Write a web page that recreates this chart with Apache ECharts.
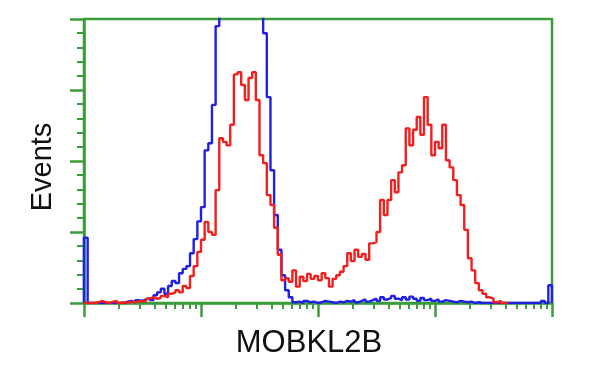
<!DOCTYPE html>
<html>
<head>
<meta charset="utf-8">
<script src="https://cdn.jsdelivr.net/npm/echarts@6/dist/echarts.min.js"></script>
<style>html,body{margin:0;padding:0;background:#fff;}#c{width:600px;height:375px;}</style>
</head>
<body>
<div id="c"></div>
<script>
// Histogram: 128 channels spanning 4 log decades (32 channels per decade)
const channelsPerDecade = 32;
const decades = 4;
const minorTickMultipliers = [2, 3, 4, 5, 6, 7, 8, 9];

// Isotype control (blue), counts per channel starting at channel 0
const blueCounts = [
  92, 0, 0, 0, 0, 0, 0, 0, 0, 0,
  0, 2, 3, 1, 4, 3, 5, 7, 4, 11,
  15, 20, 13, 24, 31, 28, 42, 48, 52, 70,
  90, 115, 135, 215, 225, 279, 390, 520, 640, 720,
  780, 810, 820, 800, 760, 700, 630, 560, 480, 380,
  290, 187, 124, 75, 39, 18, 8, 1, 2, 0,
  3, 1, 2, 0, 1, 3, 2, 1, 0, 2,
  1, 3, 2, 4, 1, 3, 5, 2, 4, 6,
  3, 8, 5, 7, 10, 6, 4, 8, 5, 9,
  6, 3, 7, 4, 6, 3, 5, 2, 4, 3,
  2, 1, 3, 2, 1, 2, 0, 1, 0, 0,
  0, 0, 0, 0, 0, 0, 0, 0, 0, 0,
  0, 0, 0, 0, 0, 3, 0, 25
];

// MOBKL2B stained (red), counts per channel starting at channel 0
const redCounts = [
  0, 0, 0, 1, 3, 1, 0, 2, 3, 0,
  1, 0, 2, 1, 3, 2, 3, 6, 8, 6,
  7, 10, 8, 13, 15, 18, 15, 24, 21, 38,
  52, 72, 89, 114, 100, 96, 159, 232, 227, 222,
  251, 322, 325, 307, 286, 317, 325, 286, 208, 197,
  152, 138, 106, 68, 32, 35, 30, 46, 23, 37,
  31, 41, 34, 38, 32, 42, 35, 23, 34, 39,
  44, 52, 70, 59, 75, 65, 69, 61, 84, 86,
  100, 145, 124, 145, 173, 156, 184, 194, 246, 222,
  244, 262, 237, 290, 251, 208, 227, 218, 251, 201,
  191, 173, 152, 138, 103, 63, 46, 28, 18, 13,
  8, 6, 1, 3, 0, 0
];

const yMax = 400;
const yInterval = 100;

const GREEN = '#3a9d3a';

function toSteps(counts) {
  const pts = [[0, 0]];
  counts.forEach((v, i) => pts.push([i, v]));
  pts.push([counts.length, 0]);
  return pts;
}

const minorTicks = [];
for (let d = 0; d < decades; d++) {
  minorTickMultipliers.forEach(m => {
    minorTicks.push(channelsPerDecade * (d + Math.log10(m)));
  });
}

const xMax = channelsPerDecade * decades;

const chart = echarts.init(document.getElementById('c'), null, {renderer: 'canvas'});
chart.setOption({
  animation: false,
  backgroundColor: '#ffffff',
  grid: {
    left: 84, right: 48, top: 19, bottom: 72,
    show: true, borderColor: GREEN, borderWidth: 2.5, backgroundColor: 'transparent'
  },
  xAxis: [
    {
      type: 'value', min: 0, max: xMax, interval: channelsPerDecade,
      axisLine: {show: true, onZero: false, lineStyle: {color: GREEN, width: 2.5}},
      axisTick: {show: true, length: 14, lineStyle: {color: GREEN, width: 2.5}},
      axisLabel: {show: false},
      splitLine: {show: false}
    },
    {
      type: 'value', min: 0, max: xMax, position: 'bottom', gridIndex: 0,
      axisLine: {show: false},
      axisTick: {show: true, length: 6, customValues: minorTicks, lineStyle: {color: GREEN, width: 2}},
      axisLabel: {show: false},
      splitLine: {show: false}
    }
  ],
  yAxis: {
    type: 'value', min: 0, max: yMax, interval: yInterval,
    axisLine: {show: true, lineStyle: {color: GREEN, width: 2.5}},
    axisTick: {show: true, length: 14, lineStyle: {color: GREEN, width: 2.5}},
    minorTick: {show: true, splitNumber: 5, length: 7, lineStyle: {color: GREEN, width: 2}},
    axisLabel: {show: false},
    splitLine: {show: false},
    minorSplitLine: {show: false}
  },
  series: [
    {
      name: 'Control', type: 'line', step: 'end', showSymbol: false, symbol: 'none',
      data: toSteps(blueCounts), clip: true, z: 3,
      lineStyle: {color: '#1f1fe6', width: 2.4}
    },
    {
      name: 'MOBKL2B', type: 'line', step: 'end', showSymbol: false, symbol: 'none',
      data: toSteps(redCounts), clip: true, z: 4,
      lineStyle: {color: '#f21f1f', width: 2.4}
    }
  ],
  graphic: [
    {
      type: 'text', x: 43, y: 167, rotation: Math.PI / 2,
      style: {text: 'Events', font: '29px "Liberation Sans", Arial, sans-serif', fill: '#111111', align: 'center', verticalAlign: 'middle'}
    },
    {
      type: 'text', x: 309, y: 343,
      style: {text: 'MOBKL2B', font: '31px "Liberation Sans", Arial, sans-serif', fill: '#111111', align: 'center', verticalAlign: 'middle'}
    }
  ]
});
</script>
</body>
</html>
